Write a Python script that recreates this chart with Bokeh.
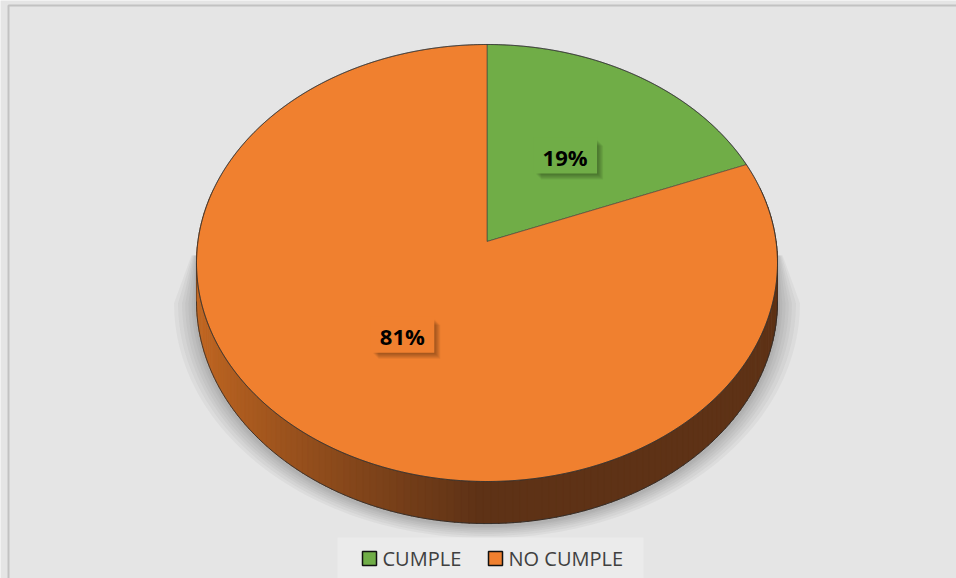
import numpy as np
from bokeh.plotting import figure
from bokeh.models import Range1d
from bokeh.core.properties import value
from bokeh.embed import file_html
from bokeh.resources import INLINE

# ---- data ----
CATEGORIES = ["CUMPLE", "NO CUMPLE"]
VALUES = [19, 81]
COLORS = ["#70ad47", "#f0802f"]
SIDE_LIGHT = (196, 104, 34)
SIDE_DARK = (94, 50, 22)

W, H = 956, 578
BG = "#e5e5e5"

# perspective pie geometry (pixel space, y down)
CX, CY = 486.5, 241.0
A, B, K = 289.1, 216.4, 0.0984
DEPTH = 37.9


def proj(theta, r=1.0, drop=0.0):
    X = r * np.cos(theta)
    Z = r * np.sin(theta)
    den = 1 + K * Z
    return CX + A * X / den, CY - B * Z / den + drop / den


p = figure(width=W, height=H, x_range=Range1d(0, W), y_range=Range1d(H, 0),
           output_backend="svg", toolbar_location=None, min_border=0,
           background_fill_color=BG, border_fill_color=BG, outline_line_color=None)
p.axis.visible = False
p.grid.visible = False

# page border
p.line([8, 8, W], [H, 5, 5], line_color="#c2c2c2", line_width=2)

# ---- shadow ----
asK = np.arcsin(K)
tb = np.linspace(np.pi + asK, 2 * np.pi - asK, 120)
for s in [28, 23, 18, 14, 10, 6, 3]:
    bx, by = proj(tb, drop=DEPTH)
    dx = bx - CX
    dy = by - 300
    n = np.hypot(dx, dy)
    sx = bx + dx / n * s * 0.8
    sy = by + dy / n * s * 0.45 + 2
    xs = [CX - 290 - s * 0.2] + list(sx) + [CX + 290 + s * 0.2]
    ys = [255] + list(sy) + [255]
    p.patch(xs, ys, fill_color="#555555", fill_alpha=0.06, line_color=None)

# ---- side wall (front, orange slice) ----
ts = np.linspace(np.pi - 0.25, 2 * np.pi + 0.25, 160)
xs_list, ys_list, cols = [], [], []
for i in range(len(ts) - 1):
    t0, t1 = ts[i], ts[i + 1] + 0.004
    x0, y0 = proj(t0)
    x1, y1 = proj(t1)
    x0b, y0b = proj(t0, drop=DEPTH)
    x1b, y1b = proj(t1, drop=DEPTH)
    xs_list.append([x0, x1, x1b, x0b])
    ys_list.append([y0, y1, y1b, y0b])
    xm = (x0 + x1) / 2
    f = float(np.clip((xm - 196) / (480 - 196), 0, 1)) ** 0.8
    c = tuple(int(round(SIDE_LIGHT[j] + (SIDE_DARK[j] - SIDE_LIGHT[j]) * f)) for j in range(3))
    cols.append("#%02x%02x%02x" % c)
p.patches(xs_list, ys_list, fill_color=cols, line_color=cols, line_width=0.6)

# side outline
bx, by = proj(tb, drop=DEPTH)
p.line(bx, by, line_color="#2a2a2a", line_width=1, line_alpha=0.8)
xl, yl = proj(np.pi + asK)
xr, yr = proj(2 * np.pi - asK)
p.line([xl, xl], [yl, yl + DEPTH / (1 - K * K)], line_color="#2a2a2a", line_width=0.8, line_alpha=0.6)
p.line([xr, xr], [yr, yr + DEPTH / (1 - K * K)], line_color="#2a2a2a", line_width=0.8, line_alpha=0.6)

# ---- top slices ----
total = float(sum(VALUES))
start = np.pi / 2
label_pos = []
for v, col in zip(VALUES, COLORS):
    sweep = v / total * 2 * np.pi
    end = start - sweep
    tt = np.linspace(start, end, max(8, int(sweep * 80)))
    ax, ay = proj(tt)
    xs = [CX] + list(ax)
    ys = [CY] + list(ay)
    p.patch(xs, ys, fill_color=col, line_color="#3a3a3a", line_width=0.8, line_alpha=0.7)
    label_pos.append(proj((start + end) / 2, r=0.5))
    start = end

# top rim outline
tt = np.linspace(0, 2 * np.pi, 400)
ax, ay = proj(tt)
p.line(ax, ay, line_color="#2a2a2a", line_width=0.8, line_alpha=0.8)

# ---- data labels ----
for (lx, ly), v, col in zip(label_pos, VALUES, COLORS):
    for off in [7, 6, 5, 4, 3, 2]:
        p.rect(lx + off, ly + off, width=62, height=34, fill_color="#000000",
               fill_alpha=0.06, line_color=None)
    p.rect(lx, ly, width=64, height=36, fill_color=col, line_color=None)
    p.text([lx], [ly + 1], text=["%d%%" % v], text_align="center", text_baseline="middle",
           text_font=value("Open Sans"), text_font_style="bold", text_font_size="22px",
           text_color="#000000")

# ---- legend ----
p.quad(left=337, right=643, top=537, bottom=H + 2, fill_color="#ebebeb", line_color=None)
leg_x = [362, 488]
for lx, cat, col in zip(leg_x, CATEGORIES, COLORS):
    p.quad(left=lx, right=lx + 14, top=551, bottom=565, fill_color=col,
           line_color="#111111", line_width=1.5)
    p.text([lx + 20], [558], text=[cat], text_align="left", text_baseline="middle",
           text_font=value("Open Sans"), text_font_size="20px", text_color="#404040")

open("out.html", "w").write(file_html(p, INLINE))
